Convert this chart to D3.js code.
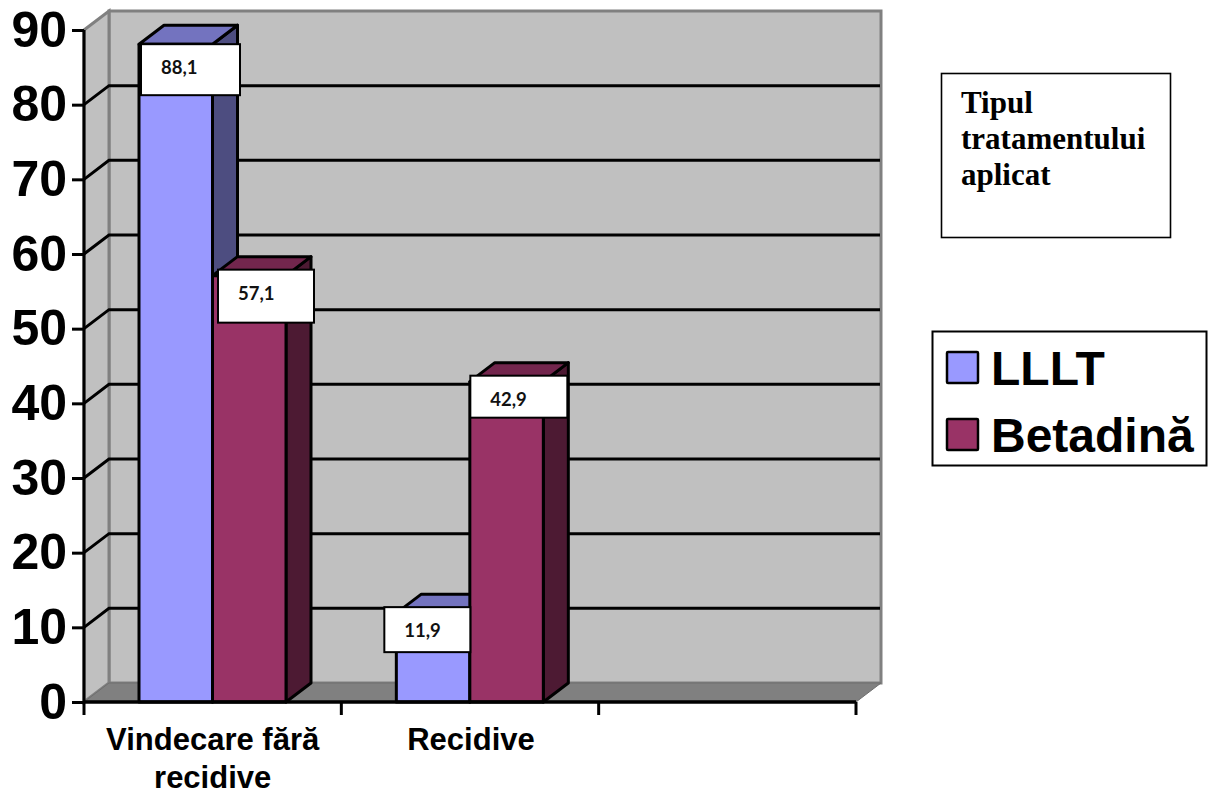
<!DOCTYPE html>
<html>
<head>
<meta charset="utf-8">
<script src="https://cdnjs.cloudflare.com/ajax/libs/d3/7.8.5/d3.min.js"></script>
<style>
html,body{margin:0;padding:0;background:#fff;}
svg{display:block;}
</style>
</head>
<body>
<svg id="chart" width="1208" height="794"></svg>
<script>
// Treatment outcomes by category; the third category slot is intentionally empty.
const categories = ["Vindecare fără recidive", "Recidive", ""];
const categoryLines = [["Vindecare fără", "recidive"], ["Recidive"], []];
const seriesNames = ["LLLT", "Betadină"];
const llltValues = [88.1, 11.9];
const betadinaValues = [57.1, 42.9];
const yTicks = [0, 10, 20, 30, 40, 50, 60, 70, 80, 90];
const legendTitle = ["Tipul", "tratamentului", "aplicat"];

const frontColors = ["#9999ff", "#993366"];
const topColors = ["#7373bf", "#73264d"];
const sideColors = ["#4d4d80", "#4d1a33"];

const svg = d3.select("#chart");
const SANS = "'Liberation Sans', Arial, sans-serif";

// Oblique depth of the 3D box
const dx = 25, dy = -19;
const y = d3.scaleLinear().domain([0, 90]).range([702, 30]);
const x = d3.scaleBand().domain(categories).range([84, 856]);
const barWidth = 73.5;
const groupInset = 55;
const y0 = y(0), left = x.range()[0], right = x.range()[1];
const inkWidth = 3;

const poly = pts => pts.map(p => p.join(",")).join(" ");

// Walls and floor
svg.append("polygon").attr("points", poly([[left + dx, y(90) + dy], [right + dx, y(90) + dy], [right + dx, y0 + dy], [left + dx, y0 + dy]]))
  .attr("fill", "#c0c0c0").attr("stroke", "#808080").attr("stroke-width", 3);
svg.append("polygon").attr("points", poly([[left, y(90)], [left + dx, y(90) + dy], [left + dx, y0 + dy], [left, y0]]))
  .attr("fill", "#c0c0c0").attr("stroke", "#808080").attr("stroke-width", 3);
svg.append("polygon").attr("points", poly([[left, y0], [left + dx, y0 + dy], [right + dx, y0 + dy], [right, y0]]))
  .attr("fill", "#808080").attr("stroke", "#6e6e6e").attr("stroke-width", 1);

// Gridlines along the back and side walls
const gridTicks = yTicks.filter(t => t > 0);
svg.append("g").selectAll("path").data(gridTicks.filter(t => t < 90)).join("path")
  .attr("d", t => `M${left},${y(t)}L${left + dx},${y(t) + dy}L${right + dx - 1},${y(t) + dy}`)
  .attr("fill", "none").attr("stroke", "#000").attr("stroke-width", inkWidth);

// Value and category axes
const yAxis = svg.append("g").attr("transform", `translate(${left},0)`)
  .call(d3.axisLeft(y).tickValues(yTicks).tickSize(12).tickPadding(5));
yAxis.select(".domain").attr("stroke", "#000").attr("stroke-width", inkWidth).attr("d", `M0,${y(90)}V${y0}`);
yAxis.selectAll(".tick line").attr("stroke", "#000").attr("stroke-width", inkWidth);
yAxis.selectAll(".tick text").attr("font-family", SANS).attr("font-weight", "bold").attr("font-size", 50).attr("fill", "#000");

const xTickPositions = categories.map(c => x(c)).concat(right);
svg.append("g").selectAll("line").data(xTickPositions).join("line")
  .attr("x1", d => d).attr("x2", d => d).attr("y1", y0).attr("y2", y0 + 13)
  .attr("stroke", "#000").attr("stroke-width", inkWidth);

// One box per value: side, top, then front
const barData = seriesNames.flatMap((name, s) => {
  const values = s === 0 ? llltValues : betadinaValues;
  return values.map((v, i) => ({ s, i, v, x0: x(categories[i]) + groupInset + s * barWidth }));
});
const bars = svg.append("g").selectAll("g").data(barData).join("g");
bars.append("polygon").attr("points", d => poly([[d.x0 + barWidth, y(d.v)], [d.x0 + barWidth + dx, y(d.v) + dy], [d.x0 + barWidth + dx, y0 + dy], [d.x0 + barWidth, y0]]))
  .attr("fill", d => sideColors[d.s]);
bars.append("polygon").attr("points", d => poly([[d.x0, y(d.v)], [d.x0 + dx, y(d.v) + dy], [d.x0 + barWidth + dx, y(d.v) + dy], [d.x0 + barWidth, y(d.v)]]))
  .attr("fill", d => topColors[d.s]);
bars.append("rect").attr("x", d => d.x0).attr("y", d => y(d.v)).attr("width", barWidth).attr("height", d => y0 - y(d.v))
  .attr("fill", d => frontColors[d.s]);
bars.selectAll("polygon,rect").attr("stroke", "#000").attr("stroke-width", inkWidth).attr("stroke-linejoin", "round");

// Baseline drawn over the feet of the boxes
svg.append("line").attr("x1", left).attr("x2", right).attr("y1", y0).attr("y2", y0).attr("stroke", "#000").attr("stroke-width", 3.5);

// Value callouts: white boxes hung near each bar top
const callouts = [
  { v: llltValues[0], i: 0, s: 0, dxBox: 2, dyBox: 0, w: 99, h: 51 },
  { v: betadinaValues[0], i: 0, s: 1, dxBox: 5.5, dyBox: -6, w: 96, h: 53 },
  { v: llltValues[1], i: 1, s: 0, dxBox: -12, dyBox: -6, w: 86, h: 45 },
  { v: betadinaValues[1], i: 1, s: 1, dxBox: 0.5, dyBox: -6, w: 97, h: 42 }
];
const labelG = svg.append("g").selectAll("g").data(callouts).join("g")
  .attr("transform", d => `translate(${x(categories[d.i]) + groupInset + d.s * barWidth + d.dxBox},${y(d.v) + d.dyBox})`);
labelG.append("rect").attr("width", d => d.w).attr("height", d => d.h)
  .attr("fill", "#fff").attr("stroke", "#000").attr("stroke-width", 2);
labelG.append("text").attr("x", 20).attr("y", 30)
  .attr("font-family", "Lato, sans-serif").attr("font-weight", "bold").attr("font-size", 18.5).attr("fill", "#111")
  .text(d => d3.format(".1f")(d.v).replace(".", ","));

// Category labels
svg.append("g").selectAll("text").data(categoryLines.flatMap((lines, i) => lines.map((t, k) => ({ t, k, i })))).join("text")
  .attr("x", d => x(categories[d.i]) + x.bandwidth() / 2 + (d.i === 0 ? 0 : 1))
  .attr("y", d => 750 + d.k * 37.5)
  .attr("text-anchor", "middle").attr("font-family", SANS).attr("font-weight", "bold").attr("font-size", 31).attr("fill", "#000")
  .text(d => d.t);

// Caption box above the legend
svg.append("rect").attr("x", 941.5).attr("y", 73.5).attr("width", 229).attr("height", 164)
  .attr("fill", "#fff").attr("stroke", "#000").attr("stroke-width", 1.6);
svg.append("g").selectAll("text").data(legendTitle).join("text")
  .attr("x", 961).attr("y", (d, i) => 113 + i * 36)
  .attr("font-family", "'Liberation Serif', 'Times New Roman', serif").attr("font-weight", "bold").attr("font-size", 31).attr("fill", "#000")
  .text(d => d);

// Legend
svg.append("rect").attr("x", 932.5).attr("y", 331.5).attr("width", 274).attr("height", 134)
  .attr("fill", "#fff").attr("stroke", "#000").attr("stroke-width", 2);
const legendRows = svg.append("g").selectAll("g").data(seriesNames).join("g")
  .attr("transform", (d, i) => `translate(947,${352 + i * 67})`);
legendRows.append("rect").attr("width", 31).attr("height", 31)
  .attr("fill", (d, i) => frontColors[i]).attr("stroke", "#000").attr("stroke-width", 2.5).attr("rx", 1);
legendRows.append("text").attr("x", 44).attr("y", 33)
  .attr("font-family", SANS).attr("font-weight", "bold").attr("font-size", 48).attr("fill", "#000")
  .text(d => d);
</script>
</body>
</html>
